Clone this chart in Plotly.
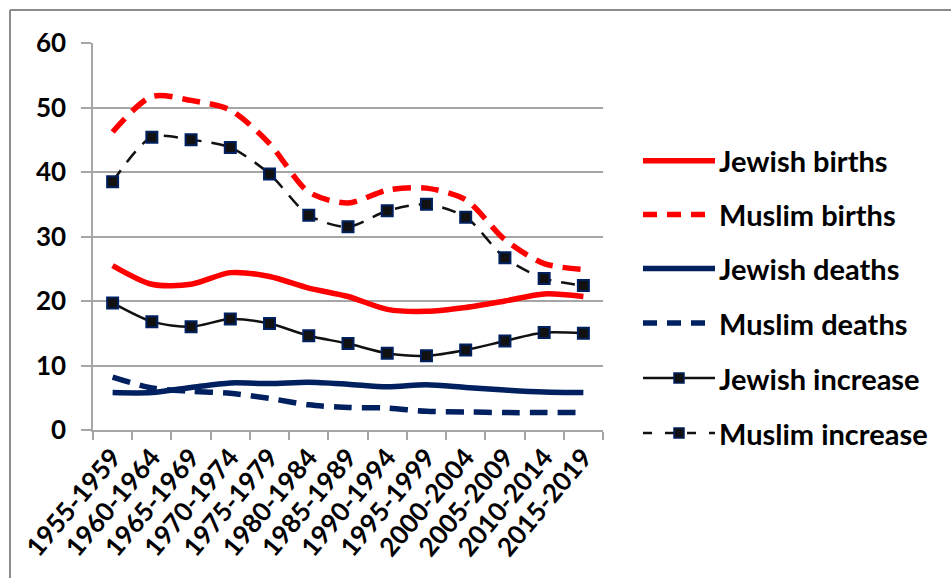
import plotly.graph_objects as go

# Five-year periods
periods = ["1955-1959", "1960-1964", "1965-1969", "1970-1974", "1975-1979",
           "1980-1984", "1985-1989", "1990-1994", "1995-1999", "2000-2004",
           "2005-2009", "2010-2014", "2015-2019"]

# Rates per 1,000 population
jewish_births = [25.5, 22.6, 22.6, 24.4, 23.8, 22.0, 20.7, 18.7, 18.4, 19.0, 20.0, 21.1, 20.7]
muslim_births = [46.2, 51.7, 51.1, 49.6, 44.4, 36.9, 35.2, 37.2, 37.5, 35.7, 29.5, 25.8, 24.9]
jewish_deaths = [5.8, 5.8, 6.6, 7.3, 7.2, 7.4, 7.1, 6.7, 7.0, 6.6, 6.2, 5.9, 5.8]
muslim_deaths = [8.2, 6.5, 6.0, 5.7, 4.9, 3.9, 3.5, 3.4, 2.9, 2.8, 2.7, 2.7, 2.7]
jewish_increase = [19.7, 16.8, 16.0, 17.2, 16.5, 14.6, 13.4, 11.9, 11.5, 12.4, 13.8, 15.1, 15.0]
muslim_increase = [38.5, 45.4, 45.0, 43.8, 39.7, 33.3, 31.5, 34.0, 35.0, 33.0, 26.7, 23.5, 22.4]

RED = "#FF0000"
NAVY = "#002060"
BLACK = "#111111"
GRID = "#A6A6A6"
FONT = dict(family="Lato", size=26, color="black", weight="bold")
LEGEND_FONT = dict(family="Lato", size=29, color="black", weight="bold")

series = [
    ("Jewish births", jewish_births, RED, 5.5, "solid", False),
    ("Muslim births", muslim_births, RED, 5.5, "18px,10px", False),
    ("Jewish deaths", jewish_deaths, NAVY, 5.5, "solid", False),
    ("Muslim deaths", muslim_deaths, NAVY, 5.5, "18px,10px", False),
    ("Jewish increase", jewish_increase, BLACK, 2.5, "solid", True),
    ("Muslim increase", muslim_increase, BLACK, 2.5, "14px,10px", True),
]

fig = go.Figure()
for name, vals, color, width, dash, markers in series:
    fig.add_trace(go.Scatter(
        x=periods, y=vals, name=name,
        mode="lines+markers" if markers else "lines",
        line=dict(color=color, width=width, dash=dash, shape="spline", smoothing=0.8),
        marker=dict(symbol="square", size=11, color=BLACK,
                    line=dict(color=NAVY, width=2)),
        showlegend=False,
    ))

# Plot area in pixels: x 93..603, y 43..430
L, R, T, B = 93, 603, 43, 430
W, H = R - L, B - T


def px(x):
    return (x - L) / W


def py(y):
    return (B - y) / H


shapes = []
annotations = []

# Hand-drawn legend on the right
legend_rows = [160.7, 214.5, 268.5, 323.0, 378.0, 433.0]
for (name, vals, color, width, dash, markers), ly in zip(series, legend_rows):
    shapes.append(dict(type="line", xref="paper", yref="paper",
                       x0=px(643), x1=px(715), y0=py(ly), y1=py(ly),
                       line=dict(color=color, width=width,
                                 dash="solid" if dash == "solid" else ("14px,10px" if not markers else "9px,13px"))))
    if markers:
        shapes.append(dict(type="rect", xref="paper", yref="paper",
                           xsizemode="pixel", ysizemode="pixel",
                           xanchor=px(679), yanchor=py(ly),
                           x0=-5, x1=5, y0=-5, y1=5,
                           fillcolor=BLACK, line=dict(color=NAVY, width=1.5)))
    annotations.append(dict(xref="paper", yref="paper", x=px(717), y=py(ly),
                            xanchor="left", yanchor="middle", showarrow=False,
                            text=name, font=LEGEND_FONT))

# Chart frame (top and left edges)
frame = dict(color="#8C8C8C", width=2)
shapes.append(dict(type="line", xref="paper", yref="paper",
                   x0=px(10), x1=px(960), y0=py(10), y1=py(10), line=frame))
shapes.append(dict(type="line", xref="paper", yref="paper",
                   x0=px(10), x1=px(10), y0=py(10), y1=py(600), line=frame))

fig.update_layout(
    width=951, height=578,
    margin=dict(l=L, r=951 - R, t=T, b=578 - B),
    paper_bgcolor="white", plot_bgcolor="white",
    shapes=shapes, annotations=annotations,
    showlegend=False,
)
fig.update_xaxes(
    type="category", tickangle=-50, tickfont=FONT,
    showline=True, linecolor=GRID, linewidth=1.5,
    ticks="outside", tickson="boundaries", ticklen=8, tickcolor=GRID, tickwidth=1.5,
    showgrid=False, range=[-0.5, 12.5],
)
fig.update_yaxes(
    range=[0, 60], dtick=10, tickfont=FONT,
    showline=True, linecolor=GRID, linewidth=1.5,
    ticks="outside", ticklen=10, tickcolor=GRID, tickwidth=1.5,
    showgrid=True, gridcolor=GRID, gridwidth=1.5, zeroline=False,
    ticklabelstandoff=10,
)

fig.write_html("out.html")
